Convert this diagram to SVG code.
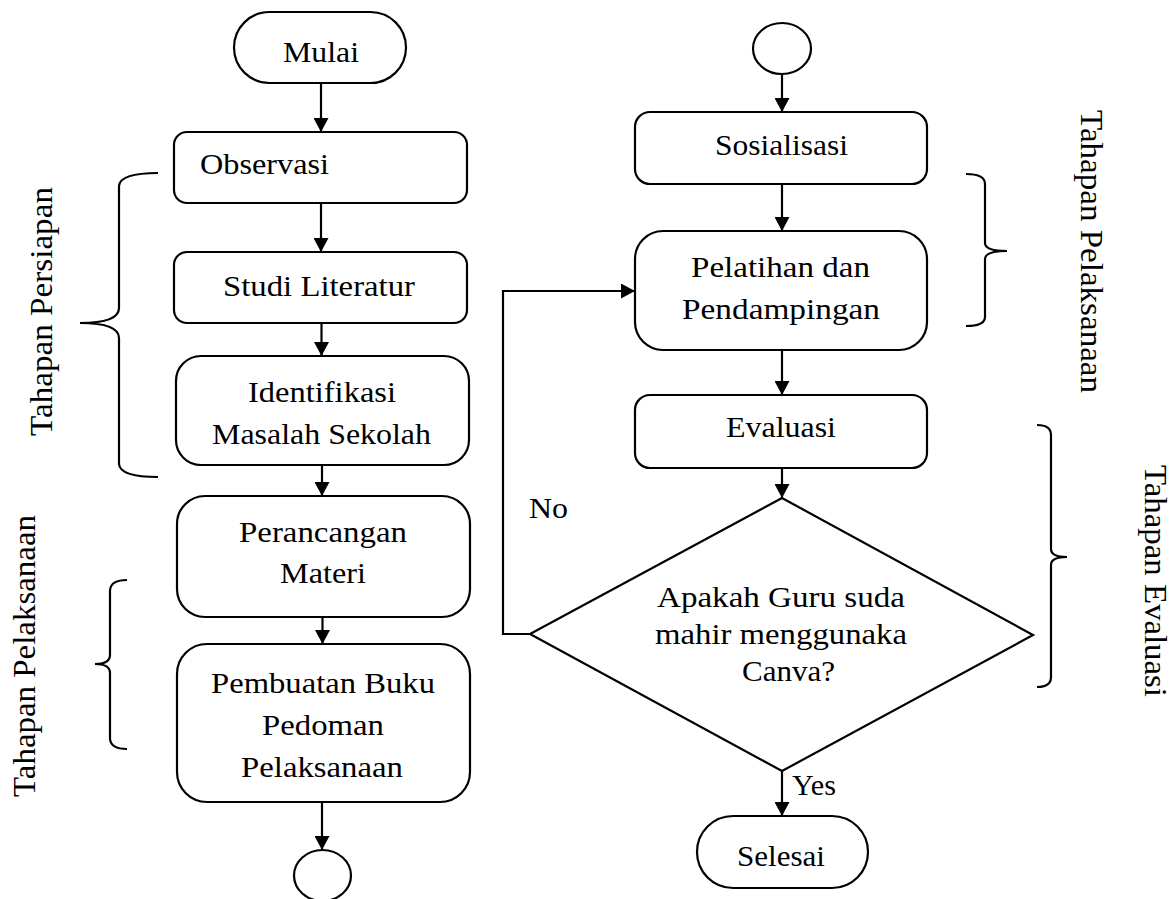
<svg xmlns="http://www.w3.org/2000/svg" width="1173" height="899" viewBox="0 0 1173 899">
<defs>
<marker id="ah" markerUnits="userSpaceOnUse" markerWidth="14" markerHeight="15" refX="14" refY="7.5" orient="auto">
<path d="M0,0 L14,7.5 L0,15 Z" fill="#000"/>
</marker>
<style>
.box{fill:#fff;stroke:#000;stroke-width:2.2}
.t{font-family:"Liberation Serif","Times New Roman",serif;font-size:29px;fill:#000}
.lbl{font-family:"Liberation Serif","Times New Roman",serif;font-size:31px;fill:#000}
.c{fill:none;stroke:#000;stroke-width:2.2}
.br{fill:none;stroke:#000;stroke-width:2.2}
</style>
</defs>
<rect width="1173" height="899" fill="#fff"/>

<g id="connectors">
<line class="c" x1="321" y1="83" x2="321" y2="132" marker-end="url(#ah)"/>
<line class="c" x1="321" y1="203" x2="321" y2="252" marker-end="url(#ah)"/>
<line class="c" x1="321.5" y1="323" x2="321.5" y2="356" marker-end="url(#ah)"/>
<line class="c" x1="322" y1="465" x2="322" y2="496" marker-end="url(#ah)"/>
<line class="c" x1="322.5" y1="617" x2="322.5" y2="644" marker-end="url(#ah)"/>
<line class="c" x1="322" y1="802" x2="322" y2="850" marker-end="url(#ah)"/>
<line class="c" x1="782" y1="74" x2="782" y2="112" marker-end="url(#ah)"/>
<line class="c" x1="782" y1="184" x2="782" y2="231" marker-end="url(#ah)"/>
<line class="c" x1="782" y1="350" x2="782" y2="395" marker-end="url(#ah)"/>
<line class="c" x1="782" y1="468" x2="782" y2="498" marker-end="url(#ah)"/>
<line class="c" x1="782" y1="771" x2="782" y2="816" marker-end="url(#ah)"/>
<polyline class="c" points="530,634 503,634 503,291 635,291" marker-end="url(#ah)"/>
<text class="t" x="529" y="518" textLength="39" lengthAdjust="spacingAndGlyphs">No</text>
<text class="t" x="792" y="795" textLength="44" lengthAdjust="spacingAndGlyphs">Yes</text>
</g>

<g id="mulai">
<rect class="box" x="234" y="12" width="172" height="71" rx="35.5"/>
<text class="t" x="283" y="62" textLength="76" lengthAdjust="spacingAndGlyphs">Mulai</text>
</g>
<g id="observasi">
<rect class="box" x="174" y="132" width="293" height="71" rx="13"/>
<text class="t" x="200" y="174" textLength="129" lengthAdjust="spacingAndGlyphs">Observasi</text>
</g>
<g id="studi">
<rect class="box" x="174" y="252" width="293" height="71" rx="13"/>
<text class="t" x="223" y="296" textLength="192" lengthAdjust="spacingAndGlyphs">Studi Literatur</text>
</g>
<g id="identifikasi">
<rect class="box" x="176" y="356" width="293" height="109" rx="25"/>
<text class="t" x="248" y="402" textLength="148" lengthAdjust="spacingAndGlyphs">Identifikasi</text>
<text class="t" x="212" y="444" textLength="219" lengthAdjust="spacingAndGlyphs">Masalah Sekolah</text>
</g>
<g id="perancangan">
<rect class="box" x="177" y="496" width="293" height="121" rx="28"/>
<text class="t" x="239" y="542" textLength="168" lengthAdjust="spacingAndGlyphs">Perancangan</text>
<text class="t" x="280" y="583" textLength="86" lengthAdjust="spacingAndGlyphs">Materi</text>
</g>
<g id="pembuatan">
<rect class="box" x="177" y="644" width="293" height="158" rx="30"/>
<text class="t" x="211" y="693" textLength="224" lengthAdjust="spacingAndGlyphs">Pembuatan Buku</text>
<text class="t" x="262" y="735" textLength="122" lengthAdjust="spacingAndGlyphs">Pedoman</text>
<text class="t" x="241" y="777" textLength="162" lengthAdjust="spacingAndGlyphs">Pelaksanaan</text>
</g>
<g id="connector-left">
<ellipse class="box" cx="322.5" cy="875.5" rx="28.5" ry="25.5"/>
</g>

<g id="connector-right">
<ellipse class="box" cx="782" cy="48.5" rx="29" ry="25.5"/>
</g>
<g id="sosialisasi">
<rect class="box" x="635" y="112" width="292" height="72" rx="15"/>
<text class="t" x="715" y="155" textLength="133" lengthAdjust="spacingAndGlyphs">Sosialisasi</text>
</g>
<g id="pelatihan">
<rect class="box" x="635" y="231" width="292" height="119" rx="28"/>
<text class="t" x="691" y="277" textLength="179" lengthAdjust="spacingAndGlyphs">Pelatihan dan</text>
<text class="t" x="682" y="319" textLength="198" lengthAdjust="spacingAndGlyphs">Pendampingan</text>
</g>
<g id="evaluasi">
<rect class="box" x="635" y="395" width="292" height="73" rx="15"/>
<text class="t" x="726" y="437" textLength="110" lengthAdjust="spacingAndGlyphs">Evaluasi</text>
</g>
<g id="decision">
<polygon class="box" points="782,498 1033,635 782,771 530,634"/>
<text class="t" x="657" y="607" textLength="248" lengthAdjust="spacingAndGlyphs">Apakah Guru suda</text>
<text class="t" x="655" y="644" textLength="252" lengthAdjust="spacingAndGlyphs">mahir menggunaka</text>
<text class="t" x="742" y="681" textLength="93" lengthAdjust="spacingAndGlyphs">Canva?</text>
</g>
<g id="selesai">
<rect class="box" x="697" y="816" width="171" height="72" rx="36"/>
<text class="t" x="737" y="866" textLength="88" lengthAdjust="spacingAndGlyphs">Selesai</text>
</g>

<g id="brace-persiapan">
<path class="br" d="M158,173 Q120,173 119,186 L119,308 Q119,323 80,323 Q119,323 119,338 L119,464 Q120,477 158,477"/>
<text class="lbl" transform="translate(52,436) rotate(-90)" x="0" y="0" textLength="249" lengthAdjust="spacingAndGlyphs">Tahapan Persiapan</text>
</g>
<g id="brace-pelaksanaan-left">
<path class="br" d="M127,580 Q111,580 110,590 L110,655 Q110,664 95,664 Q110,664 110,673 L110,739 Q111,749 127,749"/>
<text class="lbl" transform="translate(35,797) rotate(-90)" x="0" y="0" textLength="282" lengthAdjust="spacingAndGlyphs">Tahapan Pelaksanaan</text>
</g>
<g id="brace-pelaksanaan-right">
<path class="br" d="M966,174 Q985,174 985,184 L985,243 Q985,251 1007,251 Q985,251 985,259 L985,317 Q985,326 966,326"/>
<text class="lbl" transform="translate(1081,110) rotate(90)" x="0" y="0" textLength="283" lengthAdjust="spacingAndGlyphs">Tahapan Pelaksanaan</text>
</g>
<g id="brace-evaluasi">
<path class="br" d="M1037,425 Q1051,425 1051,435 L1051,549 Q1051,557 1067,557 Q1051,557 1051,565 L1051,677 Q1051,687 1037,687"/>
<text class="lbl" transform="translate(1145,465) rotate(90)" x="0" y="0" textLength="232" lengthAdjust="spacingAndGlyphs">Tahapan Evaluasi</text>
</g>
</svg>
